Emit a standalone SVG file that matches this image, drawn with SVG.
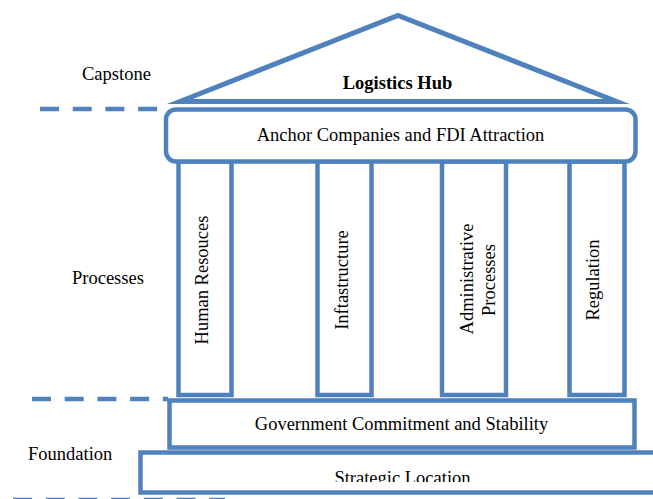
<svg xmlns="http://www.w3.org/2000/svg" width="653" height="499" viewBox="0 0 653 499">
<style>
.b{fill:#fff;stroke:#4F81BD;stroke-width:4.5}
.d{fill:none;stroke:#4F81BD;stroke-width:4.5;stroke-dasharray:19 13.7}
.t{font-family:"Liberation Serif","Times New Roman",serif;font-size:18.5px;fill:#000}
.m{text-anchor:middle}
</style>
<defs>
<clipPath id="cl"><rect x="140" y="455" width="520" height="27"/></clipPath>
</defs>
<rect width="653" height="499" fill="#fff"/>
<g id="connectors">
<line class="d" x1="40" y1="109" x2="158" y2="109"/>
<line class="d" x1="32" y1="399" x2="168" y2="399"/>
<line class="d" x1="13" y1="500" x2="225" y2="500"/>
</g>
<g id="labels">
<text class="t" x="82" y="79.5">Capstone</text>
<text class="t" x="72" y="284">Processes</text>
<text class="t" x="28" y="459.5">Foundation</text>
</g>
<g id="pillar-human">
<rect class="b" x="178.5" y="161.5" width="53" height="233.5"/>
<text class="t m" transform="translate(208,280) rotate(-90)">Human Resouces</text>
</g>
<g id="pillar-infra">
<rect class="b" x="317.5" y="161.5" width="54" height="233.5"/>
<text class="t m" transform="translate(348,280) rotate(-90)">Inftastructure</text>
</g>
<g id="pillar-admin">
<rect class="b" x="442" y="161.5" width="64" height="233.5"/>
<text class="t m" transform="translate(473.3,279) rotate(-90)">Administrative</text>
<text class="t m" transform="translate(494.5,280) rotate(-90)">Processes</text>
</g>
<g id="pillar-regulation">
<rect class="b" x="569.5" y="161.5" width="55" height="233.5"/>
<text class="t m" transform="translate(599,280) rotate(-90)">Regulation</text>
</g>
<g id="roof">
<polygon points="180,101.5 398,15.4 616.5,101.5" fill="#fff" stroke="#4F81BD" stroke-width="5" stroke-miterlimit="10"/>
<text class="t m" x="397.5" y="89" font-weight="bold">Logistics Hub</text>
</g>
<g id="anchor">
<rect class="b" x="166" y="109.5" width="469.5" height="52" rx="10"/>
<text class="t m" x="400.5" y="141">Anchor Companies and FDI Attraction</text>
</g>
<g id="government">
<rect class="b" x="169.5" y="400.5" width="465" height="47"/>
<text class="t m" x="401.5" y="429.5">Government Commitment and Stability</text>
</g>
<g id="strategic">
<rect class="b" x="140.5" y="452.5" width="530" height="40"/>
<text class="t m" x="402.5" y="483.5" clip-path="url(#cl)">Strategic Location</text>
</g>
</svg>
